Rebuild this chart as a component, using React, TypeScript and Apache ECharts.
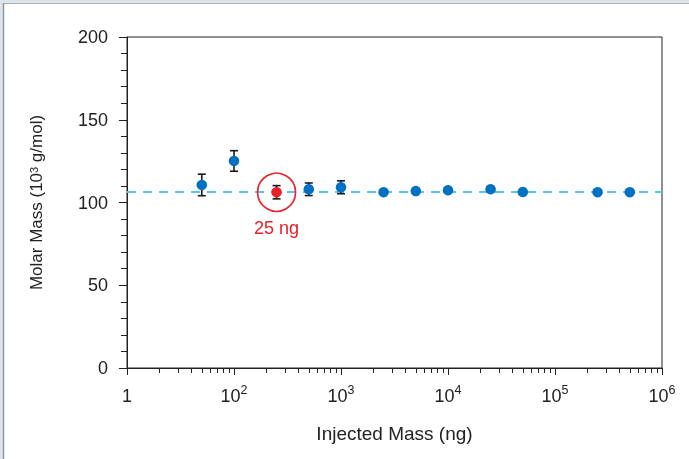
import React, { useEffect, useRef } from "react";
import * as echarts from "echarts";

const masses = [50, 100, 250, 500, 1000, 2500, 5000, 10000, 25000, 50000, 250000, 500000];
const molarMass = [110.6, 125.1, 106.2, 108.0, 109.2, 106.2, 106.9, 107.4, 108.0, 106.3, 106.2, 106.2];
const errors = [6.5, 6.2, 4.0, 3.8, 3.9, 0, 0, 0, 0, 0, 0, 0];
const highlightIndex = 2;
const highlightLabel = "25 ng";
const referenceLine = 106.3;
const xMajorTicks = [10, 100, 1000, 10000, 100000, 1000000];
const xMinorTicks = [2, 3, 4, 5, 6, 7, 8, 9].flatMap((m) => [10, 100, 1000, 10000, 100000].map((d) => m * d));
const yTicks = [0, 50, 100, 150, 200];

const TEXT = "#222";
const BLUE = "#0070c0";
const RED = "#e8202a";

export default function App() {
  const ref = useRef<HTMLDivElement>(null);
  useEffect(() => {
    if (!ref.current) return;
    const chart = echarts.init(ref.current, null, { renderer: "svg" });
    const font = "Liberation Sans, Arial, sans-serif";
    const rich = {
      b: { fontSize: 18, color: TEXT, fontFamily: font, verticalAlign: "bottom", lineHeight: 22 },
      s: { fontSize: 12.5, color: TEXT, fontFamily: font, verticalAlign: "top", lineHeight: 12 },
    };
    const normal = masses.map((m, i) => [m, molarMass[i]]).filter((_, i) => i !== highlightIndex);
    const hl = [[masses[highlightIndex], molarMass[highlightIndex]]];
    const errData = masses
      .map((m, i) => [m, molarMass[i] - errors[i], molarMass[i] + errors[i]])
      .filter((d) => d[2] > d[1]);

    chart.setOption({
      animation: false,
      textStyle: { fontFamily: font },
      graphic: [
        { type: "rect", shape: { x: 0, y: 0, width: 689, height: 3 }, style: { fill: "#dfe4ea" }, silent: true },
        { type: "rect", shape: { x: 0, y: 0, width: 3, height: 459 }, style: { fill: "#dfe4ea" }, silent: true },
        { type: "line", shape: { x1: 3, y1: 3.5, x2: 689, y2: 3.5 }, style: { stroke: "#a9b2bc", lineWidth: 1 }, silent: true },
        { type: "line", shape: { x1: 3.5, y1: 3, x2: 3.5, y2: 459 }, style: { stroke: "#8f969d", lineWidth: 1.5 }, silent: true },
      ],
      grid: {
        left: 127, right: 27, top: 37, bottom: 91,
        show: true, borderColor: TEXT, borderWidth: 1, backgroundColor: "transparent",
      },
      xAxis: [
        {
          type: "log", logBase: 10, min: 10, max: 1000000, position: "bottom",
          name: "Injected Mass (ng)", nameLocation: "middle", nameGap: 56,
          nameTextStyle: { fontSize: 19, color: TEXT, fontFamily: font },
          axisLine: { show: true, lineStyle: { color: TEXT, width: 1 } },
          axisTick: { show: true, length: 7, lineStyle: { color: TEXT, width: 1 }, customValues: xMajorTicks },
          axisLabel: {
            margin: 15,
            customValues: xMajorTicks,
            formatter: (v: number) => {
              const e = Math.round(Math.log10(v));
              return e === 1 ? "{b|1}" : `{b|10}{s|${e}}`;
            },
            rich,
          },
          splitLine: { show: false },
          minorTick: { show: false },
        },
        {
          type: "log", logBase: 10, min: 10, max: 1000000, position: "top", offset: -331,
          axisLine: { show: false },
          axisTick: { show: true, inside: true, length: 5, lineStyle: { color: TEXT, width: 1 }, customValues: xMinorTicks },
          axisLabel: { show: false },
          splitLine: { show: false },
        },
      ],
      yAxis: {
        type: "value", min: 0, max: 200, interval: 50,
        name: "Molar Mass (10{s|3} g/mol)", nameLocation: "middle", nameGap: 82,
        nameTextStyle: {
          fontSize: 17, color: TEXT, fontFamily: font,
          rich: {
            s: { fontSize: 11, color: TEXT, fontFamily: font, verticalAlign: "top", lineHeight: 11 },
          },
        },
        axisLine: { show: true, lineStyle: { color: TEXT, width: 1 } },
        axisTick: { show: true, length: 8, lineStyle: { color: TEXT, width: 1 } },
        minorTick: { show: true, splitNumber: 5, length: 6, lineStyle: { color: TEXT, width: 1 } },
        axisLabel: { margin: 19, fontSize: 18, color: TEXT, fontFamily: font, customValues: yTicks },
        splitLine: { show: false },
      },
      series: [
        {
          type: "scatter",
          xAxisIndex: 0,
          data: [],
          z: 1,
          markLine: {
            z: 1,
            silent: true,
            symbol: "none",
            label: { show: false },
            lineStyle: { color: "#5ac4ef", width: 2, type: [9, 7] },
            data: [{ yAxis: referenceLine }],
          },
        },
        {
          type: "custom",
          xAxisIndex: 0,
          data: errData,
          z: 3,
          renderItem: (params: any, api: any) => {
            const x = api.value(0);
            const lo = api.coord([x, api.value(1)]);
            const hi = api.coord([x, api.value(2)]);
            const cap = 4;
            const style = { stroke: "#1a1a1a", lineWidth: 1.6 };
            return {
              type: "group",
              children: [
                { type: "line", shape: { x1: lo[0], y1: lo[1], x2: hi[0], y2: hi[1] }, style },
                { type: "line", shape: { x1: lo[0] - cap, y1: lo[1], x2: lo[0] + cap, y2: lo[1] }, style },
                { type: "line", shape: { x1: hi[0] - cap, y1: hi[1], x2: hi[0] + cap, y2: hi[1] }, style },
              ],
            };
          },
        },
        {
          type: "scatter",
          xAxisIndex: 0,
          data: normal,
          symbolSize: 10.5,
          itemStyle: { color: BLUE, opacity: 1 },
          z: 4,
        },
        {
          type: "scatter",
          xAxisIndex: 0,
          data: hl,
          symbolSize: 10.5,
          itemStyle: { color: RED, opacity: 1 },
          z: 4,
        },
        {
          type: "scatter",
          xAxisIndex: 0,
          data: hl,
          symbolSize: 38,
          itemStyle: { color: "transparent", borderColor: RED, borderWidth: 1.6, opacity: 1 },
          label: {
            show: true, position: "bottom", distance: 7, formatter: highlightLabel,
            fontSize: 18, color: RED, fontFamily: font,
          },
          z: 5,
        },
      ],
    });
    return () => chart.dispose();
  }, []);
  return <div ref={ref} style={{ position: "fixed", left: 0, top: 0, width: 689, height: 459 }} />;
}
